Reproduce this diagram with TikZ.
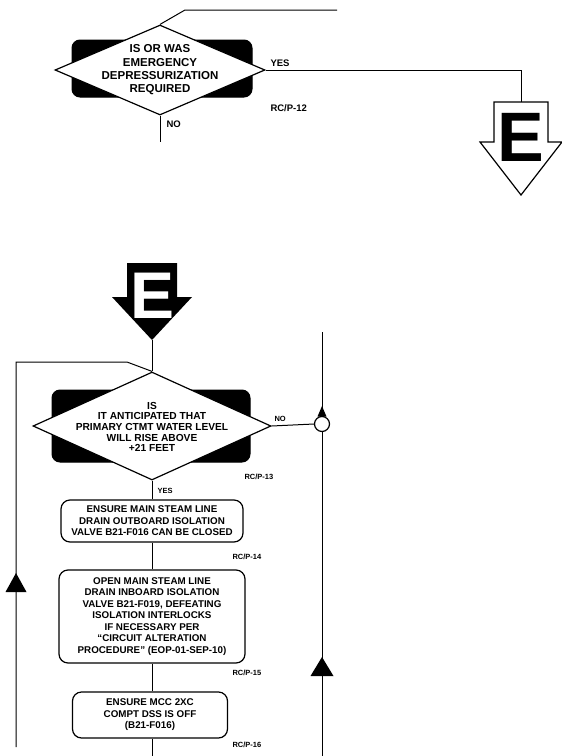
\documentclass[tikz,border=0pt]{standalone}
\usepackage{fontspec}
\setmainfont{Liberation Sans}
\usetikzlibrary{shapes.geometric}
\begin{document}
\begin{tikzpicture}[x=1pt,y=-1pt,line width=1pt,
  blackrect/.style={fill=black,draw=black,rounded corners=8pt,inner sep=0},
  dia/.style={diamond,draw=black,fill=white,inner sep=0,line width=1.2pt},
  dtextA/.style={align=center,inner sep=0,font=\fontsize{11.5}{13.3}\selectfont\bfseries},
  dtextB/.style={align=center,inner sep=0,font=\fontsize{10.2}{10.7}\selectfont\bfseries},
  stepbox/.style={draw=black,rounded corners=9pt,inner sep=0,align=center,line width=1.2pt,
    font=\fontsize{9.8}{11.5}\selectfont\bfseries},
  lblA/.style={inner sep=0,font=\fontsize{9.5}{10}\selectfont\bfseries},
  lblB/.style={inner sep=0,font=\fontsize{7.5}{8}\selectfont\bfseries},
  jct/.style={circle,draw=black,fill=white,minimum size=15pt,inner sep=0,line width=1.2pt}]
\useasboundingbox (0,0) rectangle (562,756);

% ---------- top decision ----------
\node[blackrect,minimum width=180pt,minimum height=57pt] (r1) at (162,68.5) {};
\node[dia,minimum width=210pt,minimum height=90pt] (d1) at (160,70) {};
\node[dtextA] (t1) at (160,70) {IS OR WAS\\EMERGENCY\\DEPRESSURIZATION\\REQUIRED};
\coordinate (in1a) at (185,10);
\coordinate (in1b) at (337,10);
\draw (d1.north) -- (in1a) -- (in1b);
\coordinate (y1) at (521,70);
\coordinate (eatop) at (521,102);
\draw (d1.east) -- (y1) -- (eatop);
\coordinate (n1) at (160,142);
\draw (d1.south) -- (n1);
\node[lblA,anchor=west] (yes1) at (270,63) {YES};
\node[lblA,anchor=west] (no1) at (166,124) {NO};
\node[lblA,anchor=west] (rc12) at (270,108) {RC/P-12};

% ---------- hollow E arrow ----------
\draw[line width=1.2pt,fill=white] (494,102) -- (548,102) -- (548,142) -- (562,142) -- (521,195) -- (480,142) -- (494,142) -- cycle;
\node[inner sep=0,font=\fontsize{70}{70}\selectfont\bfseries] (eh) at (521,137.5) {E};

% ---------- black E arrow ----------
\fill (127,263) -- (177,263) -- (177,297) -- (192,297) -- (152,340) -- (112,297) -- (127,297) -- cycle;
\coordinate (ebtip) at (152,340);
\node[inner sep=0,text=white,font=\fontsize{66}{66}\selectfont\bfseries] (eb) at (153,296) {E};

% ---------- second decision ----------
\node[blackrect,minimum width=198pt,minimum height=72pt] (r2) at (151,426) {};
\node[dia,minimum width=238pt,minimum height=108pt] (d2) at (152,426) {};
\node[dtextB] (t2) at (152,427) {IS\\IT ANTICIPATED THAT\\PRIMARY CTMT WATER LEVEL\\WILL RISE ABOVE\\+21 FEET};
\draw (ebtip) -- (d2.north);

% left loop
\coordinate (l1) at (16,747);
\coordinate (l2) at (16,362);
\coordinate (l3) at (127,362);
\draw (l1) -- (l2) -- (l3) -- (d2.north);
\fill (16,573) -- (26.5,592) -- (5.5,592) -- cycle;

% right line with junction
\node[jct] (c) at (322,424) {};
\coordinate (rt) at (322,332);
\coordinate (rb) at (322,756);
\draw (rb) -- (c.south);
\draw (c.north) -- (rt);
\draw (d2.east) -- (c.west);
\fill (322,406) -- (326.5,416.5) -- (317.5,416.5) -- cycle;
\fill (322,657) -- (333.5,676) -- (310.5,676) -- cycle;

\node[lblB,anchor=west] (no2) at (274,419) {NO};
\node[lblB,anchor=west] (yes2) at (157,491) {YES};
\node[lblB,anchor=west] (rc13) at (244,477) {RC/P-13};

% ---------- action boxes ----------
\node[stepbox,minimum width=182pt,minimum height=42pt] (b1) at (152,521)
  {ENSURE MAIN STEAM LINE\\DRAIN OUTBOARD ISOLATION\\VALVE B21-F016 CAN BE CLOSED};
\node[stepbox,minimum width=186pt,minimum height=93pt] (b2) at (152,616.5)
  {OPEN MAIN STEAM LINE\\DRAIN INBOARD ISOLATION\\VALVE B21-F019, DEFEATING\\ISOLATION INTERLOCKS\\IF NECESSARY PER\\``CIRCUIT ALTERATION\\PROCEDURE'' (EOP-01-SEP-10)};
\node[stepbox,minimum width=155pt,minimum height=46pt] (b3) at (150,715)
  {ENSURE MCC 2XC\\COMPT DSS IS OFF\\(B21-F016)};
\coordinate (bend) at (152,756);
\draw (d2.south) -- (b1.north);
\draw (b1.south) -- (b2.north);
\draw (b2.south) -- (b3.north -| b2.south);
\draw (b3.south -| b2.south) -- (bend);

\node[lblB,anchor=west] (rc14) at (232,557) {RC/P-14};
\node[lblB,anchor=west] (rc15) at (232,673) {RC/P-15};
\node[lblB,anchor=west] (rc16) at (232,745) {RC/P-16};
\end{tikzpicture}
\end{document}
